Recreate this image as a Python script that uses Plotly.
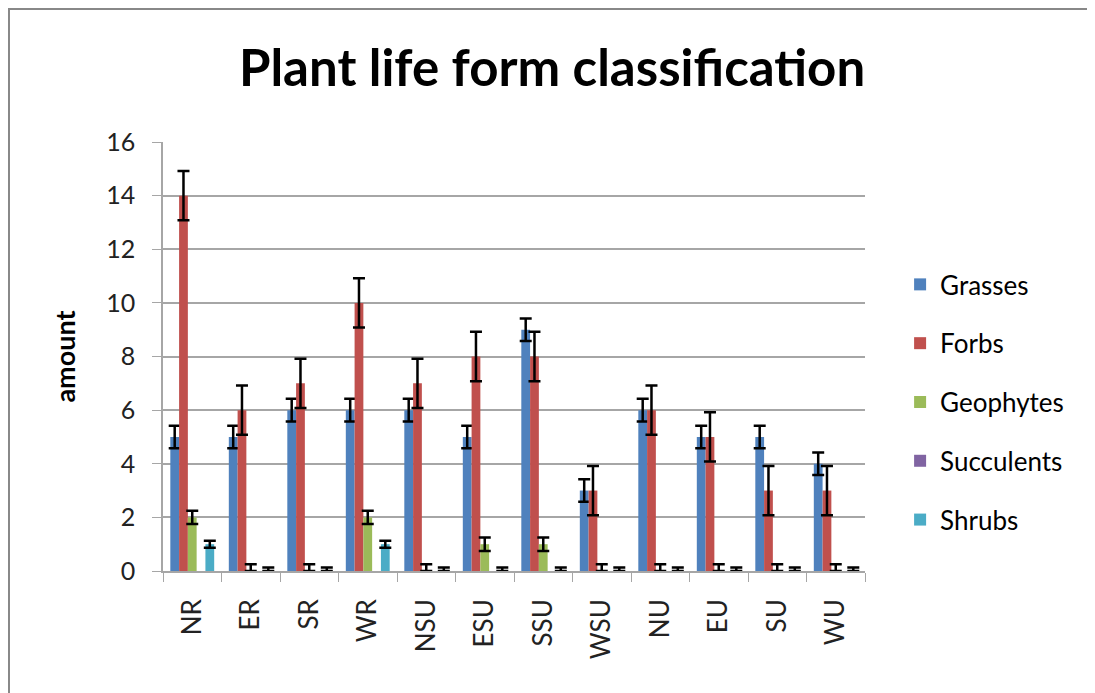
import plotly.graph_objects as go

categories = ["NR", "ER", "SR", "WR", "NSU", "ESU", "SSU", "WSU", "NU", "EU", "SU", "WU"]
series_names = ["Grasses", "Forbs", "Geophytes", "Succulents", "Shrubs"]
grasses = [5, 5, 6, 6, 6, 5, 9, 3, 6, 5, 5, 4]
forbs = [14, 6, 7, 10, 7, 8, 8, 3, 6, 5, 3, 3]
geophytes = [2, 0, 0, 2, 0, 1, 1, 0, 0, 0, 0, 0]
succulents = [0, 0, 0, 0, 0, 0, 0, 0, 0, 0, 0, 0]
shrubs = [1, 0, 0, 1, 0, 0, 0, 0, 0, 0, 0, 0]
errors = [0.42, 0.92, 0.25, 0.0, 0.13]
colors = ["#4F81BD", "#C0504D", "#9BBB59", "#8064A2", "#4BACC6"]
y_ticks = [0, 2, 4, 6, 8, 10, 12, 14, 16]

values = [grasses, forbs, geophytes, succulents, shrubs]
font = "Lato, 'Open Sans', sans-serif"

fig = go.Figure()
for name, vals, err, col in zip(series_names, values, errors, colors):
    fig.add_trace(go.Bar(
        name=name, x=categories, y=vals, marker_color=col, marker_line_width=0,
        legendgroup=name,
        error_y=dict(type="data", array=[err] * len(vals),
                     arrayminus=[min(err, v) for v in vals],
                     visible=err > 0, color="black", thickness=2.5, width=6),
    ))

fig.update_layout(
    width=1087, height=685,
    margin=dict(l=155, r=230, t=134, b=122),
    paper_bgcolor="white", plot_bgcolor="white",
    barmode="group", bargap=0.25, bargroupgap=0,
    font=dict(family=font, color="black"),
    title=dict(text="<b>Plant life form classification</b>", x=0.5005, xanchor="center",
               y=0.912, yanchor="middle", font=dict(size=51, family=font, color="black")),
    legend=dict(x=1.05, y=0.394, xanchor="left", yanchor="middle",
                font=dict(size=26, family=font, color="black"),
                tracegroupgap=22, bgcolor="rgba(0,0,0,0)"),
    showlegend=True,
)
fig.update_yaxes(range=[0, 16], tickvals=y_ticks, showgrid=True, gridcolor="#A6A6A6", gridwidth=1.5,
                 showline=True, linecolor="#A6A6A6", linewidth=1.5, ticks="outside", ticklen=9,
                 tickcolor="#A6A6A6", tickfont=dict(size=25, color="#222222"), zeroline=False,
                 ticklabelstandoff=12,
                 title=dict(text="<b>amount</b>", font=dict(size=27, color="black"), standoff=23))
fig.update_xaxes(type="category", showline=True, linecolor="#A6A6A6", linewidth=1.5,
                 ticks="outside", tickson="boundaries", ticklen=9, tickcolor="#A6A6A6",
                 tickangle=-90, tickfont=dict(size=26, color="#222222"), range=[-0.5, 11.5],
                 ticklabelstandoff=16)
fig.add_shape(type="rect", xref="paper", yref="paper", x0=-0.2194, x1=1.6, y0=-0.5, y1=1.31,
              line=dict(color="#888888", width=2), fillcolor="rgba(0,0,0,0)", layer="below")

fig.write_html("out.html")
